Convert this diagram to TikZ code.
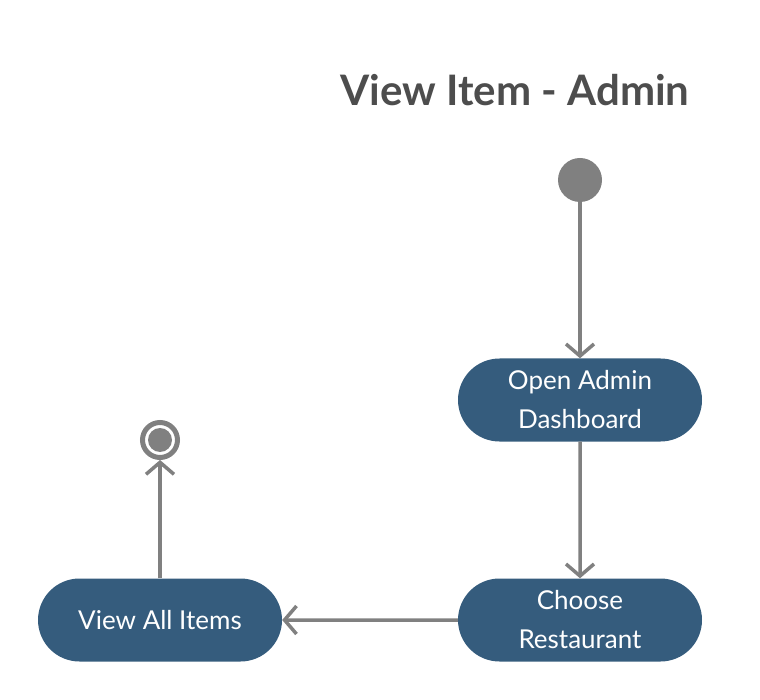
\documentclass[tikz,border=0pt]{standalone}
\usepackage{fontspec}
\setmainfont{Lato}
\usetikzlibrary{arrows.meta,shapes.misc}
\definecolor{nodeblue}{RGB}{53,92,125}
\definecolor{linegray}{RGB}{128,128,128}
\definecolor{titlegray}{RGB}{77,77,77}
\tikzset{
  act/.style={rounded rectangle, fill=nodeblue, text=white, minimum width=244pt, minimum height=83pt, inner sep=0pt, align=center, font=\fontsize{26}{39}\selectfont},
  flow/.style={draw=linegray, line width=3.5pt, -{Straight Barb[length=12pt,width=28pt,line width=3.5pt]}},
}
\begin{document}
\begin{tikzpicture}[x=1pt,y=-1pt]
\useasboundingbox (0,0) rectangle (760,700);
\node[font=\fontsize{42}{50}\bfseries\selectfont, text=titlegray, anchor=base] (title) at (515,106) {View Item - Admin};
\node[circle, fill=linegray, minimum size=44pt, inner sep=0pt] (start) at (580,180) {};
\node[act] (open) at (580,400) {Open Admin\\Dashboard};
\node[act] (choose) at (580,620) {Choose\\Restaurant};
\node[act] (view) at (160,620) {View All Items};
\node[circle, draw=linegray, line width=5pt, minimum size=35pt, inner sep=0pt] (end) at (160,440) {};
\fill[linegray] (end.center) circle (12pt);
\draw[flow] (start) -- (open);
\draw[flow] (open) -- (choose);
\draw[flow] (choose) -- (view);
\draw[flow] (view) -- (end);
\end{tikzpicture}
\end{document}
